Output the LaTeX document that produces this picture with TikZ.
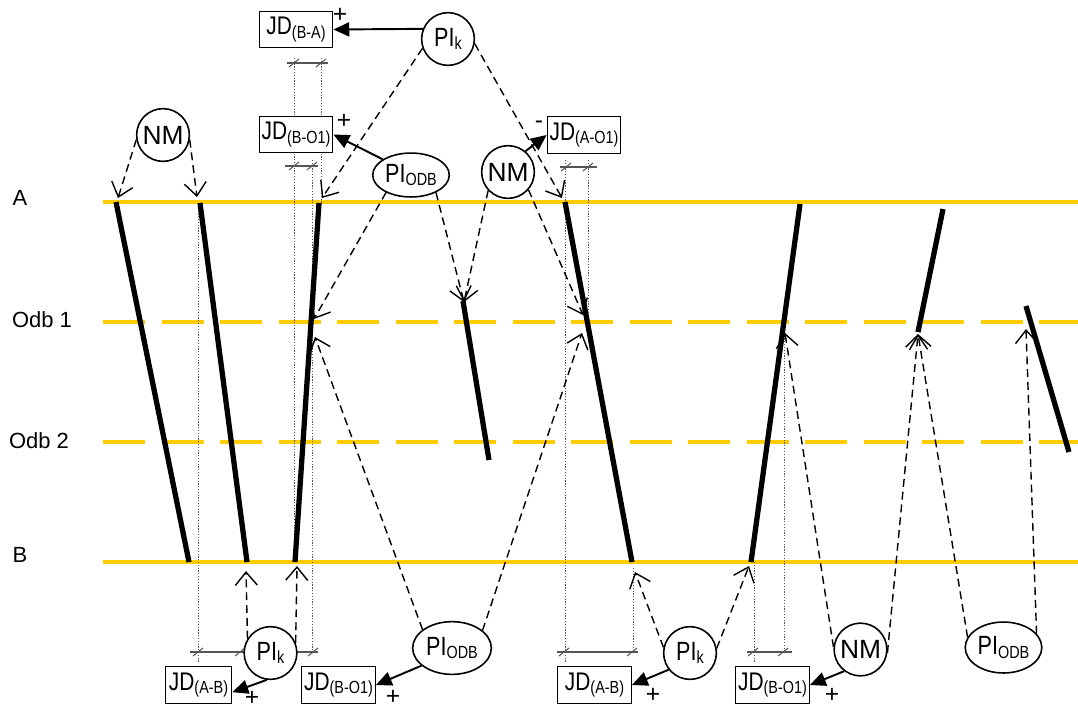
\documentclass[tikz,border=0pt]{standalone}
\usepackage{fontspec}
\setmainfont{Liberation Sans}
\newfontfamily\narrowfont[FakeStretch=0.82]{Liberation Sans}
\usetikzlibrary{arrows.meta,shapes.geometric}
\definecolor{trk}{HTML}{FFCC00}
\definecolor{dimgray}{HTML}{555555}
\newcommand{\jdtxt}[1]{\narrowfont\fontsize{14.5}{16}\selectfont JD\raisebox{-2pt}{\fontsize{10}{11}\selectfont #1}}
\newcommand{\pitxt}[1]{\narrowfont\fontsize{15}{17}\selectfont PI\raisebox{-2pt}{\fontsize{10}{11}\selectfont #1}}
\tikzset{
  track/.style={line width=2.6pt, trk},
  dtrack/.style={track, dash pattern=on 24.1pt off 9.2pt},
  train/.style={line width=3pt},
  vdot/.style={dimgray, line width=0.5pt, dash pattern=on 0.7pt off 0.9pt},
  dimline/.style={dimgray, line width=0.6pt},
  darr/.style={line width=0.8pt, dash pattern=on 4.5pt off 2.8pt, -{Straight Barb[length=7.5pt,width=12.5pt]}},
  sarr/.style={line width=1.1pt, -{Triangle[length=9pt,width=8pt]}},
  jdbox/.style={draw, line width=0.6pt, fill=white, minimum width=42pt, minimum height=21pt, inner xsep=0.5pt, inner ysep=0pt},
  circ/.style={circle, draw, line width=0.9pt, fill=white, minimum size=30pt, inner sep=0pt},
  ell/.style={ellipse, draw, line width=0.9pt, fill=white, inner sep=0pt},
  lbl/.style={font=\fontsize{12.5}{15}\selectfont, inner sep=0pt},
  sgn/.style={font=\fontsize{14}{15}\selectfont, inner sep=0pt},
  nmtxt/.style={font=\fontsize{15}{17}\selectfont},
  dimtick/.pic={\draw[dimline] (-5,4) -- (5,-4);}
}
\begin{document}
\begin{tikzpicture}[x=0.02cm,y=-0.02cm]
\useasboundingbox (0,0) rectangle (1078,708);

% row labels
\node[lbl] (lA) at (20,198) {A};
\node[lbl] (lO1) at (42,320) {Odb 1};
\node[lbl] (lO2) at (39,441) {Odb 2};
\node[lbl] (lB) at (20,555) {B};

% tracks
\draw[track] (103,202) -- (1078,202);
\draw[dtrack] (103,322) -- (1078,322);
\draw[dtrack] (103,442) -- (1078,442);
\draw[track] (103,562) -- (1078,562);

% dotted verticals
\draw[vdot] (294,58) -- (294,562);
\draw[vdot] (321,58) -- (321,203);
\draw[vdot] (312,160) -- (312,652);
\draw[vdot] (198,205) -- (198,663);
\draw[vdot] (565,160) -- (565,663);
\draw[vdot] (588,160) -- (588,322);
\draw[vdot] (633,568) -- (633,652);
\draw[vdot] (754,562) -- (754,663);
\draw[vdot] (784,330) -- (784,652);

% dimension lines
\draw[dimline] (287,63) -- (328,63);
\pic at (294,63) {dimtick}; \pic at (321,63) {dimtick};
\draw[dimline] (285,166) -- (318,166);
\pic at (294,166) {dimtick}; \pic at (312,166) {dimtick};
\draw[dimline] (560,167) -- (597,167);
\pic at (566,167) {dimtick}; \pic at (588,167) {dimtick};
\draw[dimline] (190,652) -- (318,652);
\pic at (198,652) {dimtick}; \pic at (240,652) {dimtick}; \pic at (313,652) {dimtick};
\draw[dimline] (557,652) -- (638,652);
\pic at (564,652) {dimtick}; \pic at (632,652) {dimtick};
\draw[dimline] (747,652) -- (792,652);
\pic at (753,652) {dimtick}; \pic at (783,652) {dimtick};

% train paths
\draw[train] (116,202) -- (189,562);
\draw[train] (200,203) -- (247,562);
\draw[train] (319,203) -- (295,562);
\draw[train] (463,301) -- (489,460);
\draw[train] (565,202) -- (632,562);
\draw[train] (800,204) -- (751,562);
\draw[train] (943,209) -- (918,332);
\draw[train] (1026,306) -- (1069,452);

% arrow targets
\coordinate (tg1) at (118,198);
\coordinate (tg2) at (197,197);
\coordinate (tg3) at (322,198);
\coordinate (tg4) at (314,319);
\coordinate (tg5) at (464,302);
\coordinate (tg6) at (562,198);
\coordinate (tg7) at (583,315);
\coordinate (tg8) at (246,571);
\coordinate (tg9) at (297,566);
\coordinate (tg10) at (315,337);
\coordinate (tg11) at (582,333);
\coordinate (tg12) at (635,572);
\coordinate (tg13) at (749,566);
\coordinate (tg14) at (785,333);
\coordinate (tg15) at (918,334);
\coordinate (tg16) at (1026,329);

% nodes
\node[jdbox] (jdba) at (296,29.5) {\jdtxt{(B-A)}};
\node[jdbox] (jdbo1t) at (296,134.5) {\jdtxt{(B-O1)}};
\node[jdbox] (jdao1) at (584,135) {\jdtxt{(A-O1)}};
\node[jdbox, minimum width=38pt] (jdab1) at (198.5,685) {\jdtxt{(A-B)}};
\node[jdbox] (jdbo1b) at (338.5,685) {\jdtxt{(B-O1)}};
\node[jdbox] (jdab2) at (594.5,685) {\jdtxt{(A-B)}};
\node[jdbox] (jdbo1r) at (772.5,685) {\jdtxt{(B-O1)}};

\node[circ] (pik1) at (448,39) {\pitxt{k}};
\node[circ, nmtxt] (nm1) at (163,135) {NM};
\node[ell, minimum width=43.6pt, minimum height=25pt] (piodb1) at (411,175) {\pitxt{ODB}};
\node[circ, nmtxt] (nm2) at (508,172) {NM};
\node[circ] (pik2) at (270.5,653) {\pitxt{k}};
\node[ell, minimum width=44.8pt, minimum height=30pt] (piodb2) at (452,648) {\pitxt{ODB}};
\node[circ] (pik3) at (690,653) {\pitxt{k}};
\node[circ, nmtxt] (nm3) at (860.5,649.5) {NM};
\node[ell, minimum width=43.6pt, minimum height=29pt] (piodb3) at (1003.5,647.5) {\pitxt{ODB}};

% dashed arrows
\draw[darr] (nm1.190) -- (tg1);
\draw[darr] (nm1.350) -- (tg2);
\draw[darr] (pik1.200) -- (tg3);
\draw[darr] (pik1.350) -- (tg6);
\draw[darr] (piodb1.215) -- (tg4);
\draw[darr] (piodb1.325) -- (tg5);
\draw[darr] (nm2.223) -- (tg5);
\draw[darr] (nm2.319) -- (tg7);
\draw[darr] (pik2.148) -- (tg8);
\draw[darr] (pik2.22) -- (tg9);
\draw[darr] (piodb2.148) -- (tg10);
\draw[darr] (piodb2.30) -- (tg11);
\draw[darr] (pik3.168) -- (tg12);
\draw[darr] (pik3.10) -- (tg13);
\draw[darr] (nm3.175) -- (tg14);
\draw[darr] (nm3.353) -- (tg15);
\draw[darr] (piodb3.164) -- (tg15);
\draw[darr] (piodb3.23) -- (tg16);

% solid arrows
\draw[sarr] (pik1.158) -- (jdba.east);
\draw[sarr] (piodb1.151) -- (jdbo1t.east);
\draw[sarr] (nm2.50) -- (jdao1.west);
\draw[sarr] (pik2.262) -- (jdab1.348);
\draw[sarr] (piodb2.210) -- (jdbo1b.east);
\draw[sarr] (pik3.218) -- (jdab2.east);
\draw[sarr] (nm3.233) -- (jdbo1r.east);

% signs
\node[sgn] (s1) at (340,15) {+};
\node[sgn] (s2) at (344,121) {+};
\node[sgn] (s3) at (539,125) {-};
\node[sgn] (s4) at (252,698) {+};
\node[sgn] (s5) at (393,697) {+};
\node[sgn] (s6) at (653,695) {+};
\node[sgn] (s7) at (832,695) {+};
\end{tikzpicture}
\end{document}
